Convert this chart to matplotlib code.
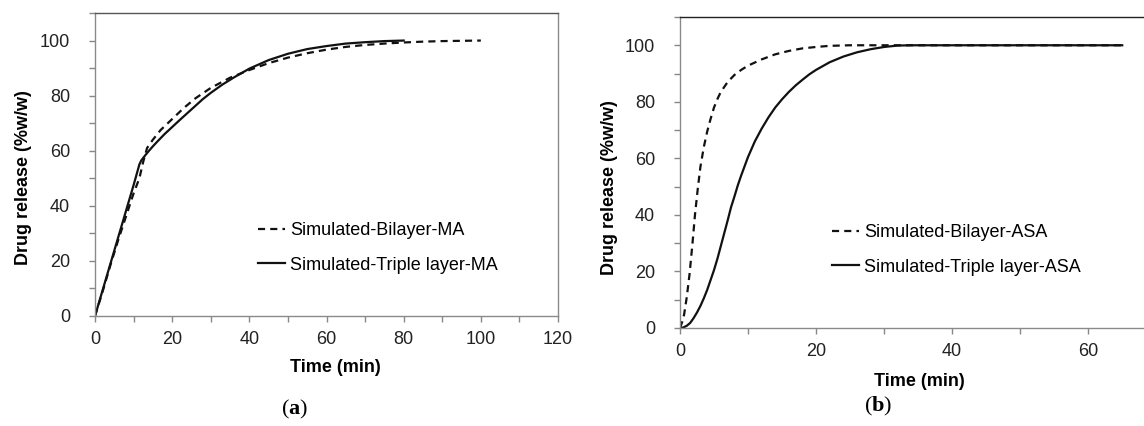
import matplotlib
matplotlib.use("Agg")
import matplotlib.pyplot as plt
import numpy as np

plt.rcParams['font.family'] = ['Liberation Sans', 'DejaVu Sans']
plt.rcParams['mathtext.fontset'] = 'custom'
plt.rcParams['mathtext.rm'] = 'Liberation Serif'
plt.rcParams['mathtext.bf'] = 'Liberation Serif:bold'

# ---- Panel (a) data: MA ----
t_bi_ma = [0, 2, 4, 6, 8, 10, 11.5, 12.5, 13.5, 15, 17, 20, 23, 26, 30, 35, 40, 45, 50, 55, 60,
           65, 70, 75, 80, 85, 90, 95, 100]
r_bi_ma = [0, 9, 18.5, 27.5, 36, 44.5, 50, 56, 61, 64, 67.5, 71.5, 75.5, 79, 82.8, 86.5, 89.3,
           91.8, 93.8, 95.4, 96.7, 97.7, 98.4, 98.9, 99.3, 99.6, 99.8, 99.9, 100]
t_tri_ma = [0, 2, 4, 6, 8, 10, 11.5, 12, 13, 14, 15, 16, 18, 20, 22, 25, 28, 30, 33, 36, 40, 45,
            50, 55, 60, 65, 70, 75, 80]
r_tri_ma = [0, 9.5, 19, 28.5, 38, 47.5, 55, 56.5, 58.3, 60, 61.6, 63.1, 66, 68.6, 71.2, 75, 78.8,
            81, 84, 86.6, 89.8, 92.9, 95.2, 96.9, 98, 98.9, 99.4, 99.8, 100]

# ---- Panel (b) data: ASA ----
t_bi_asa = [0, 0.3, 0.6, 1, 1.4, 1.8, 2.2, 2.6, 3, 3.5, 4, 4.5, 5, 5.5, 6, 7, 8, 9, 10, 12, 14,
            16, 18, 20, 22, 25, 30, 40, 50, 60, 65]
r_bi_asa = [0, 2, 4.7, 11, 19, 29, 40, 49, 57, 64, 69.5, 74, 78, 81, 83.5, 87, 89.5, 91.3, 92.8,
            95, 96.8, 98, 98.9, 99.4, 99.8, 100, 100, 100, 100, 100, 100]
t_tri_asa = [0, 0.5, 1, 1.5, 2, 2.5, 3, 3.5, 4, 4.5, 5, 5.5, 6, 6.5, 7, 7.5, 8, 8.5, 9, 10, 11,
             12, 13, 14, 15, 16, 17, 18, 19, 20, 22, 24, 26, 28, 30, 32, 34, 40, 50, 60, 65]
r_tri_asa = [0, 0.2, 0.8, 1.8, 3.5, 5.5, 7.8, 10.5, 13.5, 17, 20.5, 24.5, 29, 33.5, 38, 42.7,
             46.5, 50.5, 54, 60.5, 66, 70.5, 74.5, 78, 80.9, 83.5, 85.8, 87.8, 89.7, 91.3, 94,
             96, 97.5, 98.6, 99.4, 99.9, 100, 100, 100, 100, 100]

labels_a = ['Simulated-Bilayer-MA', 'Simulated-Triple layer-MA']
labels_b = ['Simulated-Bilayer-ASA', 'Simulated-Triple layer-ASA']

W, H = 1144, 426
fig = plt.figure(figsize=(W / 100, H / 100), dpi=100)

def px_rect(l, t, r, b):
    return [l / W, 1 - b / H, (r - l) / W, (b - t) / H]

axa = fig.add_axes(px_rect(95, 13, 558, 316))
axb = fig.add_axes(px_rect(680, 17, 1144, 328))

dash = (0, (3.2, 2.3))
lw = 1.6

def style(ax, xmax, spine_color_top):
    ax.set_ylim(0, 110)
    ax.set_xlim(0, xmax)
    ax.set_yticks(np.arange(0, 101, 20))
    ax.set_yticks(np.arange(10, 111, 20), minor=True)
    ax.tick_params(axis='both', which='both', direction='out', length=4, width=1,
                   color='#888888', labelsize=13, labelcolor='#222222')
    ax.tick_params(axis='y', which='both', pad=14)
    ax.tick_params(axis='x', which='both', pad=7)
    for s in ['left', 'bottom', 'right']:
        ax.spines[s].set_color('#8a8a8a')
        ax.spines[s].set_linewidth(1.0)
    ax.spines['top'].set_color(spine_color_top)
    ax.spines['top'].set_linewidth(1.0)

# Panel a
axa.plot(t_bi_ma, r_bi_ma, color='#111111', lw=lw, linestyle=dash, label=labels_a[0])
axa.plot(t_tri_ma, r_tri_ma, color='#111111', lw=lw, linestyle='-', label=labels_a[1])
style(axa, 120, '#555555')
axa.set_xticks(np.arange(0, 121, 20))
axa.set_xticks(np.arange(10, 121, 20), minor=True)

# Panel b
axb.plot(t_bi_asa, r_bi_asa, color='#111111', lw=lw, linestyle=dash, label=labels_b[0])
axb.plot(t_tri_asa, r_tri_asa, color='#111111', lw=lw, linestyle='-', label=labels_b[1])
style(axb, 68.2, '#222222')
axb.spines['right'].set_visible(False)
axb.set_xticks(np.arange(0, 61, 20))
axb.set_xticks(np.arange(10, 61, 20), minor=True)

# Legends
for ax, lx, ly in [(axa, 258, 248), (axb, 832, 250)]:
    ax.legend(loc='center left', bbox_to_anchor=(lx / W, 1 - ly / H),
              bbox_transform=fig.transFigure, frameon=False, fontsize=13,
              handlelength=1.5, handletextpad=0.3, labelspacing=0.95,
              borderpad=0, borderaxespad=0)

# Axis labels as figure text
def ftext(x, y, s, **kw):
    fig.text(x / W, 1 - y / H, s, ha='center', va='center', **kw)

ftext(23.5, 178, 'Drug release (%w/w)', rotation=90, fontsize=13, fontweight='bold')
ftext(610, 188, 'Drug release (%w/w)', rotation=90, fontsize=13, fontweight='bold')
ftext(335, 368, 'Time (min)', fontsize=13, fontweight='bold')
ftext(919, 381, 'Time (min)', fontsize=13, fontweight='bold')
ftext(295, 409, r'$(\mathbf{a})$', fontsize=16)
ftext(878, 406, r'$(\mathbf{b})$', fontsize=16)

fig.savefig('out.png', dpi=100)
